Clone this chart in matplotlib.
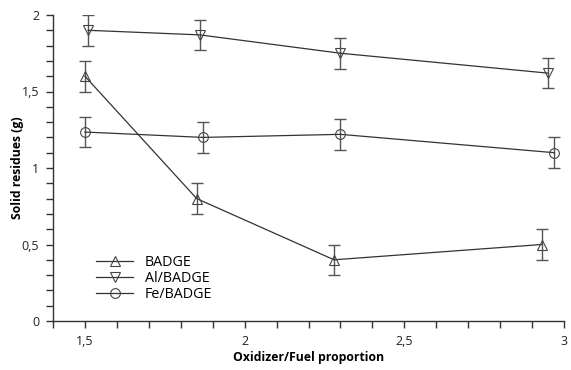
import numpy as np
import matplotlib.pyplot as plt
from matplotlib.ticker import MultipleLocator, FuncFormatter

plt.rcParams['font.family'] = ['Open Sans', 'DejaVu Sans']
plt.rcParams['font.size'] = 9

# Data
badge_x = [1.50, 1.85, 2.28, 2.93]
badge_y = [1.60, 0.80, 0.40, 0.50]
badge_err = [0.10, 0.10, 0.10, 0.10]

al_x = [1.51, 1.86, 2.30, 2.95]
al_y = [1.90, 1.87, 1.75, 1.62]
al_err = [0.10, 0.10, 0.10, 0.10]

fe_x = [1.50, 1.87, 2.30, 2.97]
fe_y = [1.235, 1.20, 1.22, 1.10]
fe_err = [0.10, 0.10, 0.10, 0.10]

series = [
    ("BADGE", badge_x, badge_y, badge_err, "^"),
    ("Al/BADGE", al_x, al_y, al_err, "v"),
    ("Fe/BADGE", fe_x, fe_y, fe_err, "o"),
]

fig = plt.figure(figsize=(5.71, 3.70), dpi=100)
ax = fig.add_axes([53 / 571, 1 - 321 / 370, (564 - 53) / 571, (321 - 15) / 370])

line_col = "#333333"
for label, x, y, err, mk in series:
    ax.errorbar(x, y, yerr=err, fmt="none", ecolor="#555555", elinewidth=1.0,
                capsize=4, capthick=1.0, zorder=2)
    ax.plot(x, y, color=line_col, lw=0.9, marker=mk, markersize=7,
            markerfacecolor="none", markeredgecolor="#444444",
            markeredgewidth=0.8, label=label, zorder=3)

ax.set_xlim(1.4, 3.0)
ax.set_ylim(0, 2.0)
ax.xaxis.set_major_locator(MultipleLocator(0.5))
ax.xaxis.set_minor_locator(MultipleLocator(0.1))
ax.yaxis.set_major_locator(MultipleLocator(0.5))
ax.yaxis.set_minor_locator(MultipleLocator(0.1))

fmt = FuncFormatter(lambda v, p: (f"{v:g}").replace(".", ","))
ax.xaxis.set_major_formatter(fmt)
ax.yaxis.set_major_formatter(fmt)

ax.tick_params(which="major", direction="out", length=5, width=1, color="#333333",
               pad=5, labelsize=9, labelcolor="#222222")
ax.tick_params(which="minor", direction="out", length=5, width=1, color="#333333")
ax.spines["top"].set_visible(False)
ax.spines["right"].set_visible(False)
for s in ("left", "bottom"):
    ax.spines[s].set_linewidth(1.0)
    ax.spines[s].set_color("#333333")

ax.set_xlabel("Oxidizer/Fuel proportion", fontweight="bold", fontsize=8.8, labelpad=2)
ax.set_ylabel("Solid residues (g)", fontweight="bold", fontsize=8.8, labelpad=-2)

ax.legend(loc="lower left", bbox_to_anchor=(0.065, 0.03), frameon=False,
          fontsize=10.3, handlelength=2.6, labelspacing=0.05, handletextpad=0.8,
          borderpad=0.2)

fig.savefig("out.png", dpi=100)
